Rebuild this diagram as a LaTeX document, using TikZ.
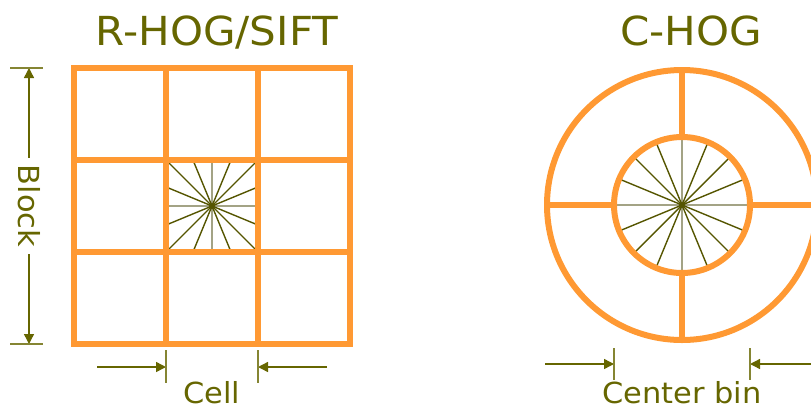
\documentclass[tikz,border=0pt]{standalone}
\usepackage{fontspec}
\setmainfont{DejaVu Sans}
\newfontfamily\widesans{DejaVu Sans}[FakeStretch=1.05]
\usetikzlibrary{arrows.meta,positioning,calc}
\definecolor{Amber}{HTML}{FF9933}
\definecolor{Olive}{HTML}{666600}
\definecolor{DeepOlive}{HTML}{555500}
\definecolor{GreyOlive}{HTML}{A3A385}

\begin{document}
\begin{tikzpicture}[x=1pt,y=-1pt,>={Triangle[length=10pt,width=10pt]},
  dimline/.style={Olive,line width=1.4pt},
  tick/.style={Olive!80,line width=1.2pt},
  ray/.style={DeepOlive,line width=1.4pt},
  axisray/.style={GreyOlive,line width=1.4pt},
  bar/.style={Amber,line width=6.5pt},
  tag/.style={text=Olive,font=\widesans\fontsize{29}{31}\selectfont,inner sep=0pt,anchor=base},
  heading/.style={text=Olive,font=\widesans\fontsize{40}{44}\selectfont,inner sep=0pt,anchor=base}]
  \useasboundingbox (0,0) rectangle (811,410);
  \node[heading] (rhog) at (217,45) {R-HOG/SIFT};
  \node[heading] (chog) at (691,45) {C-HOG};
  \coordinate (sq) at (212,206);
  \coordinate (ci) at (682,205);
  \begin{scope}
    \clip (166,160) rectangle (258,252);
    \draw[axisray] (166,206) -- (258,206) (212,160) -- (212,252);
    \foreach \a in {22.5,45,67.5,112.5,135,157.5,202.5,225,247.5,292.5,315,337.5}{\draw[ray] (sq) -- ++(\a:80);}
  \end{scope}
  \draw[axisray] ($(ci)+(-68,0)$) -- ($(ci)+(68,0)$) ($(ci)+(0,-68)$) -- ($(ci)+(0,68)$);
  \foreach \a in {22.5,45,67.5,112.5,135,157.5,202.5,225,247.5,292.5,315,337.5}{\draw[ray] (ci) -- ++(\a:68);}
  \fill[DeepOlive] (sq) circle (3);
  \fill[DeepOlive] (ci) circle (3);
  \draw[bar] (74,68) rectangle (350,344);
  \draw[bar,line width=6pt] (166,68) -- (166,344) (258,68) -- (258,344) (74,160) -- (350,160) (74,252) -- (350,252);
  \draw[bar,line width=6pt] (ci) circle (135) (ci) circle (68);
  \foreach \a in {0,90,180,270}{\draw[bar,line width=6pt] ($(ci)+(\a:68)$) -- ($(ci)+(\a:135)$);}
  \node[tag,rotate=-90,anchor=center,inner sep=7pt] (blk) at (29,206) {Block};
  \coordinate (btop) at (29,68);
  \coordinate (bbot) at (29,344);
  \draw[dimline,->] (blk) -- (btop);
  \draw[dimline,->] (blk) -- (bbot);
  \draw[tick] ($(btop)+(-19,0)$) -- ($(btop)+(14,0)$) ($(bbot)+(-19,0)$) -- ($(bbot)+(14,0)$);
  \coordinate (cl) at (166,367);
  \coordinate (cr) at (258,367);
  \coordinate (clfree) at (97,367);
  \coordinate (crfree) at (327,367);
  \draw[dimline,->] (clfree) -- (cl);
  \draw[dimline,->] (crfree) -- (cr);
  \draw[tick] ($(cl)+(0,-17)$) -- ($(cl)+(0,16)$) ($(cr)+(0,-17)$) -- ($(cr)+(0,16)$);
  \node[tag] (cell) at (212,403) {Cell};
  \coordinate (bl) at (614,364);
  \coordinate (br) at (750,364);
  \coordinate (blfree) at (545,364);
  \coordinate (brfree) at (816,364);
  \draw[dimline,->] (blfree) -- (bl);
  \draw[dimline,->] (brfree) -- (br);
  \draw[tick] ($(bl)+(0,-16)$) -- ($(bl)+(0,16)$) ($(br)+(0,-16)$) -- ($(br)+(0,16)$);
  \node[tag] (cbin) at (682,403) {Center bin};
\end{tikzpicture}
\end{document}
